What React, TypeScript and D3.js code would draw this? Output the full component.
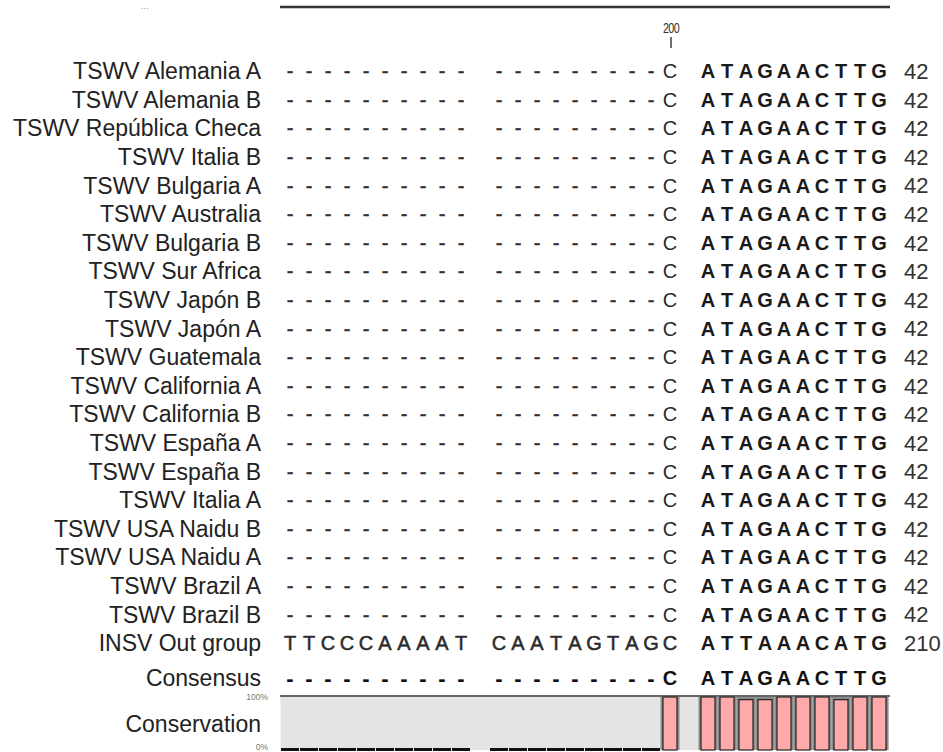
import React from "react";
import * as d3 from "d3";

const names = [
  "TSWV Alemania A", "TSWV Alemania B", "TSWV República Checa", "TSWV Italia B",
  "TSWV Bulgaria A", "TSWV Australia", "TSWV Bulgaria B", "TSWV Sur Africa",
  "TSWV Japón B", "TSWV Japón A", "TSWV Guatemala", "TSWV California A",
  "TSWV California B", "TSWV España A", "TSWV España B", "TSWV Italia A",
  "TSWV USA Naidu B", "TSWV USA Naidu A", "TSWV Brazil A", "TSWV Brazil B",
  "INSV Out group",
];
const tswvSeq = "-------------------CATAGAACTTG";
const insvSeq = "TTCCCAAAATCAATAGTAGCATTAAACATG";
const consensusSeq = "-------------------CATAGAACTTG";
const counts = [42, 42, 42, 42, 42, 42, 42, 42, 42, 42, 42, 42, 42, 42, 42, 42, 42, 42, 42, 42, 210];
// conservation (%) per alignment column
const conservation = [
  0, 0, 0, 0, 0, 0, 0, 0, 0, 0,
  0, 0, 0, 0, 0, 0, 0, 0, 0, 100,
  100, 100, 95, 95, 100, 100, 100, 95, 100, 100,
];
const rulerTicks = [{ label: "200", index: 19 }];

const W = 943;
const H = 752;
const FONT = "'Liberation Sans', Arial, sans-serif";

export default function App() {
  const nCols = 32;
  const x = d3.scaleBand<number>().domain(d3.range(nCols)).range([280.5, 888.5]).padding(0);
  const colOf = (i: number) => i + Math.floor(i / 10);
  const cx = (i: number) => (x(colOf(i)) as number) + x.bandwidth() / 2;
  const rowY = d3.scaleLinear().domain([0, 20]).range([71, 643]);
  const consY = 678;
  const cy = d3.scaleLinear().domain([0, 100]).range([750, 697]);

  const seqFor = (r: number) => (r < 20 ? tswvSeq : insvSeq);

  return (
    <svg width={W} height={H} style={{ position: "absolute", left: 0, top: 0, background: "#fff" }} fontFamily={FONT}>
      {/* overview ruler */}
      <text x={145} y={9} fontSize={10} fill="#999" textAnchor="middle">...</text>
      <line x1={280} x2={890} y1={7} y2={7} stroke="#333" strokeWidth={2.5} />
      {rulerTicks.map((t) => {
        const tx = cx(t.index) + 1;
        return (
          <g key={t.label}>
            <text x={0} y={33} fontSize={15} fill="#333" textAnchor="middle" letterSpacing={-1}
              transform={`translate(${tx},0) scale(0.72,1)`}>{t.label}</text>
            <line x1={tx} x2={tx} y1={37} y2={48} stroke="#333" strokeWidth={1.4} />
          </g>
        );
      })}

      {/* rows */}
      {names.map((name, r) => {
        const y = rowY(r);
        const seq = seqFor(r);
        return (
          <g key={name}>
            <text x={261} y={y} dy="0.36em" fontSize={23} fill="#222" textAnchor="end">{name}</text>
            {seq.split("").map((ch, i) => {
              const bold = i >= 20;
              const dash = ch === "-";
              const heavy = dash || (r === 20 && !bold);
              return (
                <text key={i} x={cx(i)} y={y} dy="0.36em" fontSize={20} fontWeight={bold ? "bold" : "normal"}
                  fill={dash ? "#333" : bold ? "#1a1a1a" : "#2a2a2a"}
                  stroke={heavy ? "#2a2a2a" : "none"} strokeWidth={heavy ? 0.5 : 0}
                  textAnchor="middle">{ch}</text>
              );
            })}
            <text x={904} y={y} dy="0.36em" fontSize={22} fill="#333">{counts[r]}</text>
          </g>
        );
      })}

      {/* consensus */}
      <text x={261} y={consY} dy="0.36em" fontSize={23} fill="#222" textAnchor="end">Consensus</text>
      {consensusSeq.split("").map((ch, i) => (
        <text key={i} x={cx(i)} y={consY} dy="0.36em" fontSize={ch === "-" ? 22 : 20} fontWeight="bold" fill="#111" textAnchor="middle">{ch}</text>
      ))}

      {/* conservation */}
      <text x={261} y={724} dy="0.36em" fontSize={23} fill="#222" textAnchor="end">Conservation</text>
      <text x={268} y={700} fontSize={8.5} fill="#777" textAnchor="end">100%</text>
      <text x={268} y={750} fontSize={8.5} fill="#777" textAnchor="end">0%</text>
      <rect x={280.5} y={697} width={608.5} height={53} fill="#e4e4e4" />
      {conservation.map((v, i) => {
        const x0 = x(colOf(i)) as number;
        const bw = x.bandwidth();
        if (v <= 0) {
          return <rect key={i} x={x0 + 0.5} y={748} width={bw - 1} height={3} fill="#111" />;
        }
        return (
          <g key={i}>
            <rect x={x0} y={697} width={bw} height={53} fill="#8c8c8c" />
            <rect x={x0 + 2.5} y={cy(v)} width={bw - 5} height={750 - cy(v)} fill="#ffaaaa" stroke="#222" strokeWidth={1.2} />
          </g>
        );
      })}
      <line x1={280} x2={890} y1={696} y2={696} stroke="#333" strokeWidth={1.5} />
    </svg>
  );
}
